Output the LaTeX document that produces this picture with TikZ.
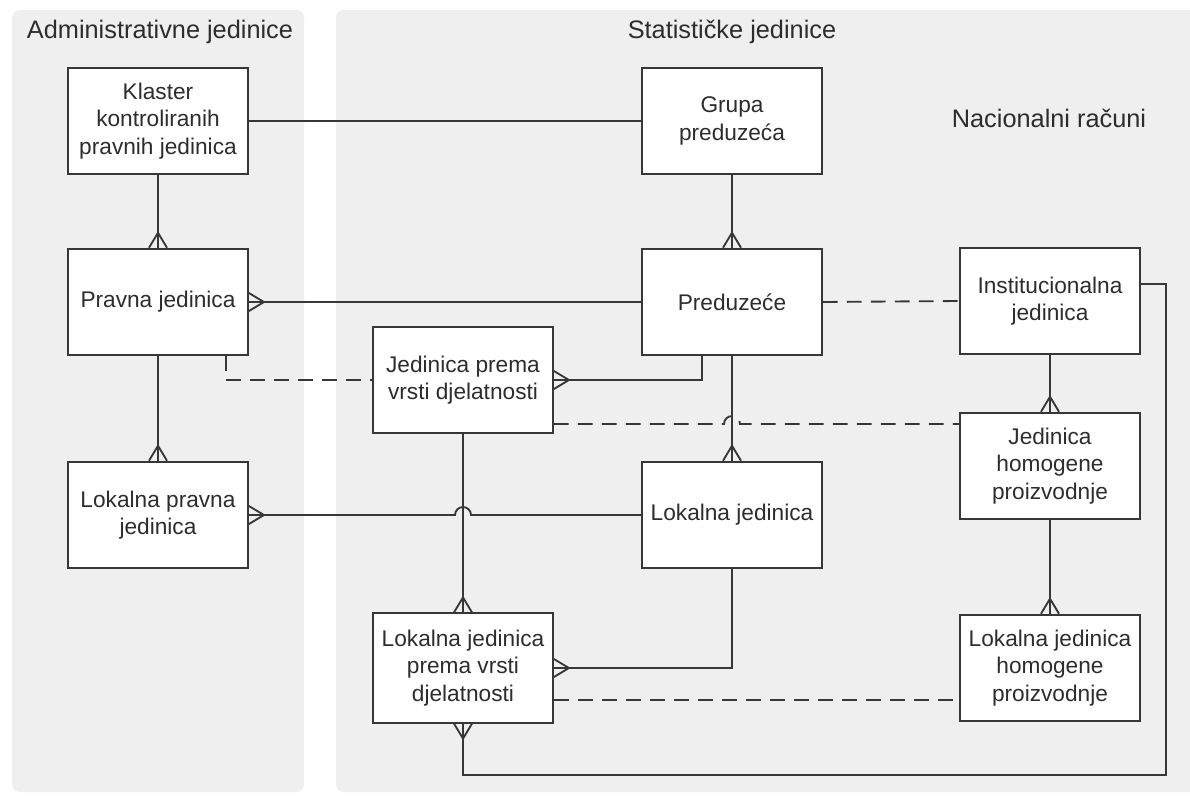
\documentclass[tikz,border=0pt]{standalone}
\usepackage{fontspec}
\setmainfont{Liberation Sans}
\usepackage{tikz}
\usetikzlibrary{calc, decorations.markings}
\definecolor{panelgray}{RGB}{239,239,239}
\definecolor{linegray}{RGB}{55,55,55}
\definecolor{textgray}{RGB}{45,45,45}

\begin{document}
\begin{tikzpicture}[x=0.75pt, y=0.75pt,
  box/.style={draw=linegray, line width=1.4pt, fill=white, minimum width=135pt,
    minimum height=80pt, align=center, text=textgray,
    font=\fontsize{17}{20.5}\selectfont},
  title/.style={text=textgray, font=\fontsize{19}{23}\selectfont},
  link/.style={draw=linegray, line width=1.4pt},
  dashline/.style={link, dash pattern=on 11pt off 7pt},
  crowend/.style={link, postaction={decorate}, decoration={markings,
    mark=at position 1 with {\draw[linegray, line width=1.4pt, solid]
      (-15,0) -- (0,9) (-15,0) -- (0,-9);}}}]
  \useasboundingbox (0,0) rectangle (1190,-796);
  \fill[white] (0,0) rectangle (1190,-796);

  % Panels
  \fill[panelgray, rounded corners=6pt] (12,-10) rectangle (304,-792);
  \fill[panelgray, rounded corners=6pt] (336,-10) rectangle (1200,-792);
  \node[title] (admintitle) at (160,-32) {Administrativne jedinice};
  \node[title] (stattitle) at (732,-32) {Statističke jedinice};
  \node[title] (natitle) at (1049,-118) {Nacionalni računi};

  % Units
  \node[box] (klaster) at (158,-121) {Klaster\\kontroliranih\\pravnih jedinica};
  \node[box] (pravna) at (158,-302) {Pravna jedinica};
  \node[box] (lpj) at (158,-515) {Lokalna pravna\\jedinica};
  \node[box] (grupa) at (732,-121) {Grupa\\preduzeća};
  \node[box] (pred) at (732,-302) {Preduzeće};
  \node[box] (jpv) at (463,-380) {Jedinica prema\\vrsti djelatnosti};
  \node[box] (lj) at (732,-515) {Lokalna jedinica};
  \node[box, minimum height=82pt] (ljpv) at (463,-668) {Lokalna jedinica\\prema vrsti\\djelatnosti};
  \node[box] (inst) at (1050,-301) {Institucionalna\\jedinica};
  \node[box] (jhp) at (1050,-466) {Jedinica\\homogene\\proizvodnje};
  \node[box] (ljhp) at (1050,-668) {Lokalna jedinica\\homogene\\proizvodnje};

  \path ($(jpv.east)+(0,-44)$) coordinate (hopa);
  \path ($(ljpv.east)+(0,-32)$) coordinate (dashb);
  \coordinate (loopc) at (1166,-775);

  % Relations
  \draw[link] (klaster.east) -- (grupa.west);
  \draw[crowend] (klaster.south) -- (pravna.north);
  \draw[crowend] (pred.west) -- (pravna.east);
  \draw[crowend] (pravna.south) -- (lpj.north);
  \draw[dashline] ($(pravna.south)+(68,0)$) |- (jpv.west);
  \draw[crowend] (grupa.south) -- (pred.north);
  \draw[dashline] (pred.east) -- (inst.west);
  \draw[crowend] ($(pred.south)+(-30,0)$) |- (jpv.east);
  \draw[crowend] (pred.south) -- (lj.north);
  \draw[dashline] (hopa) -- ($(lj.north |- hopa)+(-8,0)$) arc (180:0:8) -- (jhp.west |- hopa);
  \draw[crowend] (lj.west) -- ($(jpv.south |- lj.west)+(8,0)$) arc (0:180:8) -- (lpj.east);
  \draw[crowend] (jpv.south) -- (ljpv.north);
  \draw[crowend] (lj.south) |- (ljpv.east);
  \draw[dashline] (dashb) -- (ljhp.west |- dashb);
  \draw[crowend] (inst.south) -- (jhp.north);
  \draw[crowend] (jhp.south) -- (ljhp.north);
  \draw[crowend] ($(inst.east)+(0,17)$) -| (loopc) -| (ljpv.south);
\end{tikzpicture}
\end{document}
